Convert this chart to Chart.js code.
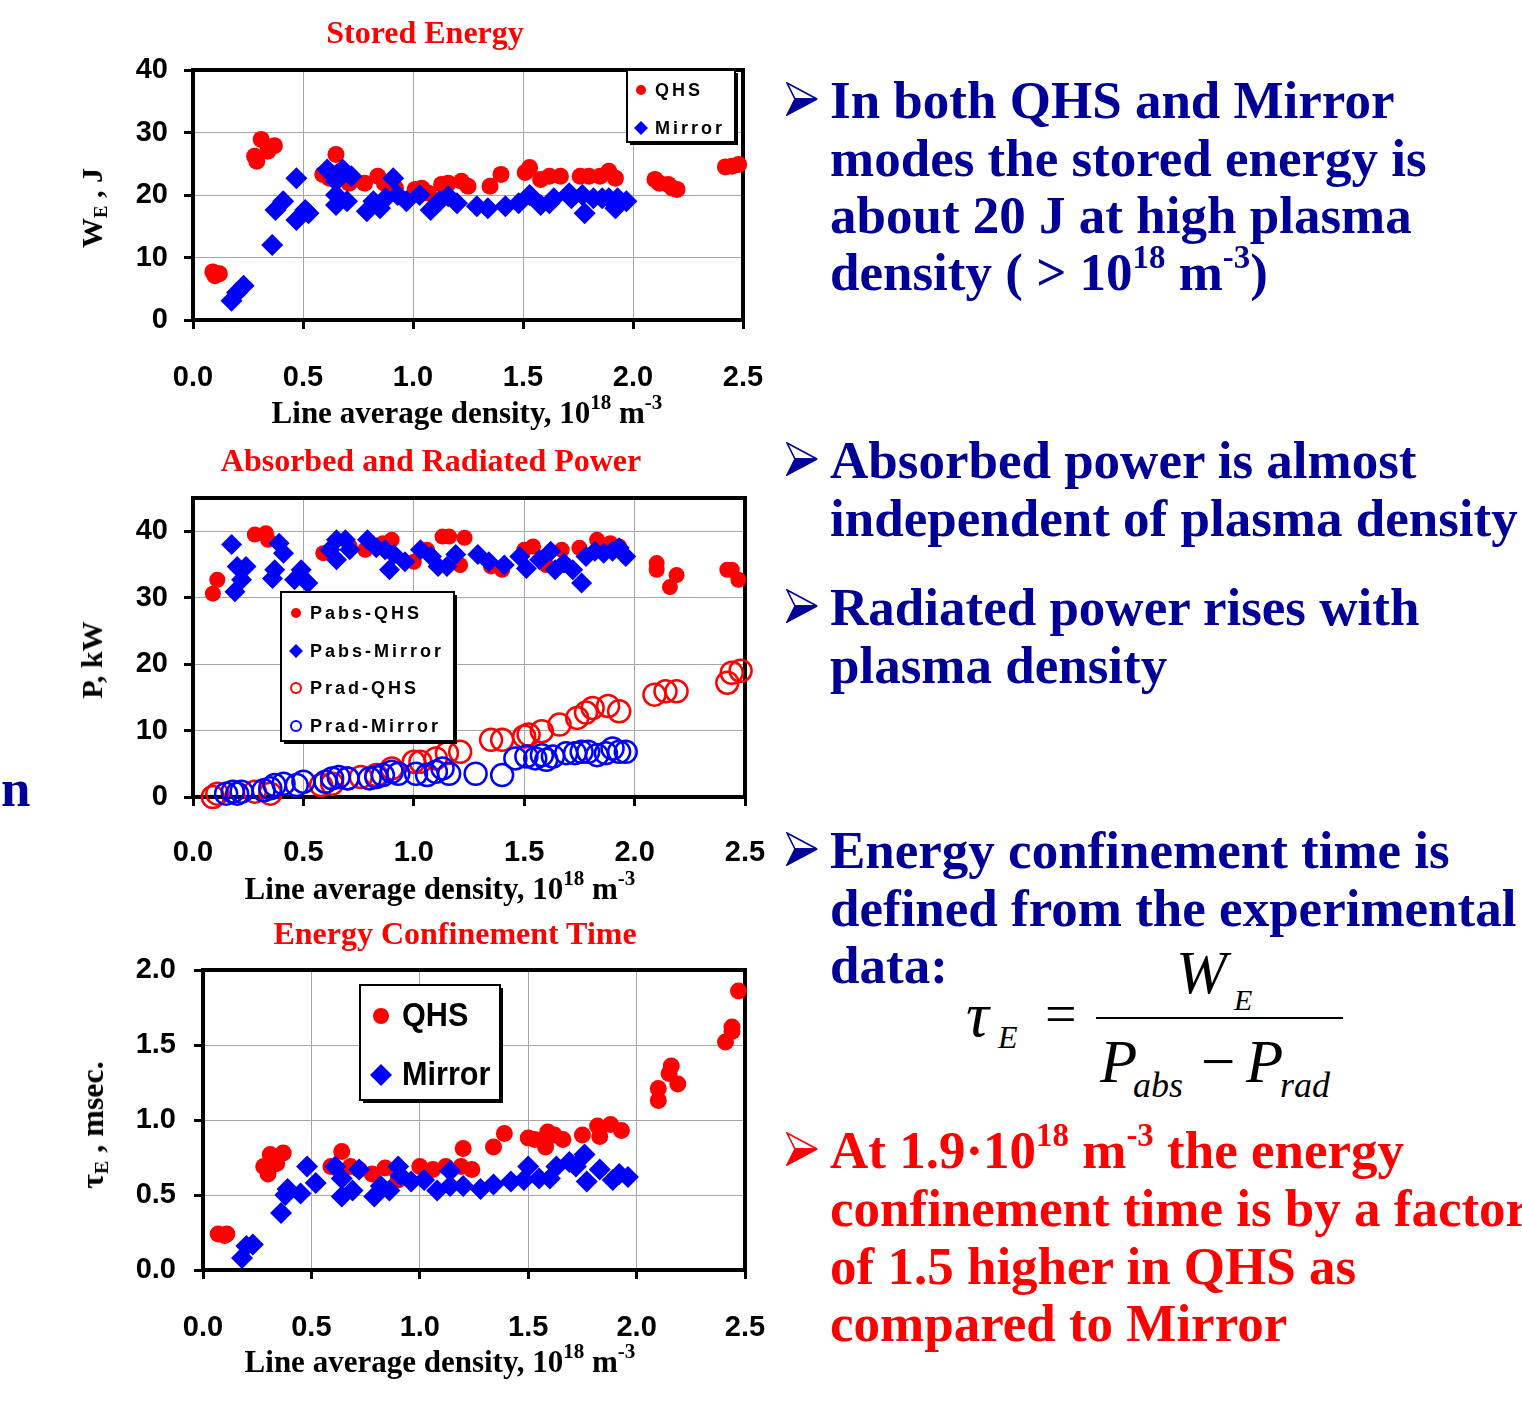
<!DOCTYPE html>
<html>
<head>
<meta charset="utf-8">
<title>Stored energy, power and confinement time</title>
<script src="https://cdn.jsdelivr.net/npm/chart.js@4.4.1/dist/chart.umd.min.js"></script>
<style>
  html, body { margin: 0; padding: 0; background: #fff; }
  body { width: 1522px; height: 1401px; position: relative; overflow: hidden; }
  canvas { position: absolute; left: 0; }
  .t { position: absolute; white-space: nowrap; font-family: "Liberation Serif", "Times New Roman", serif; font-weight: bold; line-height: 1; }
  .note { font-size: 53px; color: #000099; left: 830px; }
  .note.red { color: #ff0000; }
  .ctitle { font-size: 32px; color: #ff0000; transform: translateX(-50%); }
  .xtitle { font-size: 31px; color: #000; transform: translateX(-50%); }
  .ytitle { font-size: 30px; color: #000; transform: translate(-50%, -50%) rotate(-90deg); }
  .sup { font-size: 0.62em; position: relative; top: -0.65em; }
  .xtitle .sup { font-size: 0.68em; }
  .sub { font-size: 0.62em; position: relative; top: 0.25em; }
  .arrow { position: absolute; left: 786px; }
  .eq { position: absolute; font-family: "Liberation Serif", "Times New Roman", serif; font-style: italic; line-height: 1; white-space: nowrap; color: #000; }
</style>
</head>
<body>

<canvas id="cEnergy" width="790" height="400" style="top:0px"></canvas>
<canvas id="cPower" width="790" height="440" style="top:430px"></canvas>
<canvas id="cTau" width="790" height="460" style="top:900px"></canvas>

<!-- chart titles and axis titles -->
<div class="t ctitle" style="left:425px; top:16px">Stored Energy</div>
<div class="t xtitle" style="left:467px; top:397px">Line average density, 10<span class="sup">18</span> m<span class="sup">-3</span></div>
<div class="t ytitle" style="left:92px; top:208px">W<span class="sub">E</span> , J</div>

<div class="t ctitle" style="left:431px; top:444px">Absorbed and Radiated Power</div>
<div class="t xtitle" style="left:440px; top:873px">Line average density, 10<span class="sup">18</span> m<span class="sup">-3</span></div>
<div class="t ytitle" style="left:92px; top:660px">P, kW</div>

<div class="t ctitle" style="left:455px; top:917px">Energy Confinement Time</div>
<div class="t xtitle" style="left:440px; top:1346px">Line average density, 10<span class="sup">18</span> m<span class="sup">-3</span></div>
<div class="t ytitle" style="left:92px; top:1125px; font-size:32px">&tau;<span class="sub">E</span> , msec.</div>

<!-- bullet notes -->
<div class="t note" style="left:1px; top:762px">n</div>

<svg class="arrow" style="top:82px" width="32" height="34" viewBox="0 0 32 34"><polygon points="1,1 31,17 9,17" fill="#fff" stroke="#000099" stroke-width="1.6"/><polygon points="9,17 31,17 1,33" fill="#000099" stroke="#000099" stroke-width="1.6"/></svg>
<div class="t note" style="top:73.6px">In both QHS and Mirror</div>
<div class="t note" style="top:131.6px">modes the stored energy is</div>
<div class="t note" style="top:188.6px">about 20 J at high plasma</div>
<div class="t note" style="top:245.6px">density ( &gt; 10<span class="sup">18</span> m<span class="sup">-3</span>)</div>

<svg class="arrow" style="top:442px" width="32" height="34" viewBox="0 0 32 34"><polygon points="1,1 31,17 9,17" fill="#fff" stroke="#000099" stroke-width="1.6"/><polygon points="9,17 31,17 1,33" fill="#000099" stroke="#000099" stroke-width="1.6"/></svg>
<div class="t note" style="top:433.6px">Absorbed power is almost</div>
<div class="t note" style="top:491.6px">independent of plasma density</div>

<svg class="arrow" style="top:589px" width="32" height="34" viewBox="0 0 32 34"><polygon points="1,1 31,17 9,17" fill="#fff" stroke="#000099" stroke-width="1.6"/><polygon points="9,17 31,17 1,33" fill="#000099" stroke="#000099" stroke-width="1.6"/></svg>
<div class="t note" style="top:580.6px">Radiated power rises with</div>
<div class="t note" style="top:638.6px">plasma density</div>

<svg class="arrow" style="top:832px" width="32" height="34" viewBox="0 0 32 34"><polygon points="1,1 31,17 9,17" fill="#fff" stroke="#000099" stroke-width="1.6"/><polygon points="9,17 31,17 1,33" fill="#000099" stroke="#000099" stroke-width="1.6"/></svg>
<div class="t note" style="top:823.6px">Energy confinement time is</div>
<div class="t note" style="top:881.6px">defined from the experimental</div>
<div class="t note" style="top:938.6px">data:</div>

<!-- tau_E = W_E / (P_abs - P_rad) -->
<div class="eq" style="left:966px; top:983px; font-size:64px">&tau;</div>
<div class="eq" style="left:998px; top:1021px; font-size:32px">E</div>
<div class="eq" style="left:1045px; top:986px; font-size:56px; font-style:normal">=</div>
<div style="position:absolute; left:1096px; top:1017px; width:247px; height:2px; background:#000"></div>
<div class="eq" style="left:1176px; top:942px; font-size:61px">W</div>
<div class="eq" style="left:1234px; top:985px; font-size:30px">E</div>
<div class="eq" style="left:1100px; top:1031px; font-size:61px">P</div>
<div class="eq" style="left:1133px; top:1067px; font-size:36px">abs</div>
<div class="eq" style="left:1201px; top:1031px; font-size:61px; font-style:normal">&minus;</div>
<div class="eq" style="left:1246px; top:1031px; font-size:61px">P</div>
<div class="eq" style="left:1280px; top:1067px; font-size:36px">rad</div>

<svg class="arrow" style="top:1132px" width="32" height="34" viewBox="0 0 32 34"><polygon points="1,1 31,17 9,17" fill="#fff" stroke="#ff0000" stroke-width="1.6"/><polygon points="9,17 31,17 1,33" fill="#ff0000" stroke="#ff0000" stroke-width="1.6"/></svg>
<div class="t note red" style="top:1123.6px">At 1.9&middot;10<span class="sup">18</span> m<span class="sup">-3</span> the energy</div>
<div class="t note red" style="top:1181.6px">confinement time is by a factor</div>
<div class="t note red" style="top:1239.6px">of 1.5 higher in QHS as</div>
<div class="t note red" style="top:1296.6px">compared to Mirror</div>

<script>
// ---- stored energy W_E (J) vs line average density (1e18 m^-3) ----
const weQhsDensity = [0.09, 0.10, 0.12, 0.28, 0.29, 0.31, 0.34, 0.37, 0.59, 0.62, 0.65, 0.67, 0.71,
  0.78, 0.84, 0.87, 0.92, 1.01, 1.04, 1.07, 1.13, 1.16, 1.22, 1.25, 1.35, 1.40,
  1.51, 1.53, 1.58, 1.62, 1.67, 1.76, 1.80, 1.85, 1.89, 1.92, 2.10, 2.12, 2.16, 2.18, 2.20,
  2.42, 2.45, 2.48];
const weQhsEnergy = [7.7, 7.1, 7.4, 26.2, 25.4, 28.9, 27.0, 27.9, 23.3, 22.7, 26.5, 23.8, 21.9,
  21.9, 23.0, 21.9, 21.1, 20.9, 21.1, 20.3, 21.7, 21.9, 22.2, 21.4, 21.4, 23.3,
  23.6, 24.4, 22.5, 23.0, 23.0, 23.0, 23.0, 23.0, 23.8, 22.7, 22.5, 21.9, 21.7, 21.1, 20.9,
  24.5, 24.6, 24.9];
const weMirrorDensity = [0.175, 0.20, 0.23, 0.36, 0.375, 0.41, 0.47, 0.47, 0.51, 0.525,
  0.61, 0.65, 0.65, 0.65, 0.68, 0.72, 0.70, 0.79, 0.82, 0.85, 0.875, 0.91, 0.93, 0.97,
  1.03, 1.08, 1.12, 1.16, 1.20, 1.29, 1.34, 1.42, 1.48, 1.53, 1.58, 1.62, 1.64,
  1.71, 1.72, 1.77, 1.78, 1.82, 1.86, 1.89, 1.92, 1.93, 1.97];
const weMirrorEnergy = [3.1, 4.4, 5.5, 12.0, 17.6, 19.0, 22.7, 16.0, 17.6, 17.1,
  24.1, 22.2, 20.0, 18.4, 24.1, 23.0, 19.0, 17.4, 19.0, 17.9, 19.5, 22.7, 20.0, 19.0,
  20.0, 17.6, 19.0, 19.8, 18.7, 18.2, 17.9, 18.2, 18.7, 20.0, 18.4, 18.7, 19.5,
  20.3, 19.5, 20.0, 17.1, 19.5, 19.5, 19.5, 17.9, 19.5, 19.0];

// ---- absorbed and radiated power (kW) ----
const pabsQhsDensity = [0.09, 0.11, 0.28, 0.33, 0.34, 0.59, 0.71, 0.78, 0.86, 0.90, 1.00, 1.06,
  1.13, 1.16, 1.23, 1.21, 1.35, 1.40, 1.50, 1.54, 1.60, 1.67, 1.75, 1.83, 1.89, 1.93,
  2.10, 2.10, 2.16, 2.19, 2.42, 2.44, 2.47];
const pabsQhsPower = [30.6, 32.7, 39.5, 39.7, 38.7, 36.7, 37.7, 37.2, 38.2, 38.7, 35.4, 37.2,
  39.2, 39.2, 39.0, 34.9, 34.7, 34.2, 37.2, 37.7, 34.9, 37.2, 37.5, 38.7, 38.2, 37.7,
  35.2, 34.2, 31.6, 33.4, 34.2, 34.2, 32.7];
const pabsMirrorDensity = [0.175, 0.19, 0.20, 0.22, 0.24, 0.36, 0.37, 0.39, 0.41, 0.46, 0.49, 0.52,
  0.62, 0.65, 0.65, 0.69, 0.71, 0.79, 0.83, 0.87, 0.89, 0.91, 0.96, 1.03, 1.08, 1.11, 1.15, 1.19,
  1.29, 1.34, 1.41, 1.48, 1.51, 1.57, 1.62, 1.64, 1.68, 1.72, 1.76, 1.78, 1.82, 1.86, 1.90, 1.93, 1.96];
const pabsMirrorPower = [38.0, 30.9, 34.7, 32.7, 34.7, 32.9, 34.2, 38.2, 36.7, 32.7, 34.2, 32.2,
  37.2, 38.7, 35.7, 38.7, 37.2, 38.7, 37.5, 37.2, 34.2, 36.5, 35.4, 37.2, 36.2, 34.7, 34.7, 36.5,
  36.5, 35.4, 34.9, 36.2, 34.4, 35.7, 37.0, 34.2, 35.2, 34.2, 32.2, 36.2, 37.0, 36.7, 37.0, 37.5, 36.2];
const pradQhsDensity = [0.09, 0.11, 0.28, 0.35, 0.58, 0.63, 0.70, 0.76, 0.83, 0.90, 1.00, 1.03,
  1.10, 1.15, 1.21, 1.35, 1.40, 1.50, 1.52, 1.58, 1.66, 1.74, 1.78, 1.81, 1.88, 1.93,
  2.09, 2.14, 2.19, 2.42, 2.44, 2.48];
const pradQhsPower = [0.0, 0.5, 0.8, 0.5, 1.8, 2.0, 2.8, 3.0, 3.3, 4.3, 5.3, 5.3,
  5.8, 6.6, 6.8, 8.6, 8.6, 9.1, 9.4, 9.9, 10.9, 11.9, 12.7, 13.4, 13.7, 12.9,
  15.4, 15.9, 15.9, 17.2, 18.7, 19.0];
const pradMirrorDensity = [0.15, 0.18, 0.20, 0.22, 0.32, 0.35, 0.37, 0.41, 0.47, 0.50, 0.60, 0.63,
  0.66, 0.70, 0.80, 0.83, 0.86, 0.90, 0.93, 1.01, 1.06, 1.10, 1.13, 1.16, 1.28, 1.40,
  1.46, 1.51, 1.55, 1.58, 1.60, 1.63, 1.69, 1.73, 1.76, 1.79, 1.83, 1.87, 1.90, 1.93, 1.96];
const pradMirrorPower = [0.5, 0.8, 0.5, 0.8, 1.0, 1.3, 1.8, 2.0, 1.8, 2.3, 2.3, 2.8,
  3.0, 2.8, 2.8, 3.0, 3.3, 3.8, 3.5, 3.5, 3.3, 3.8, 4.3, 3.5, 3.5, 3.3,
  5.8, 6.1, 5.8, 6.3, 5.6, 6.1, 6.6, 6.6, 6.8, 6.8, 6.3, 6.6, 7.3, 6.8, 6.8];

// ---- energy confinement time (msec) ----
const tauQhsDensity = [0.07, 0.10, 0.11, 0.28, 0.30, 0.31, 0.34, 0.37, 0.59, 0.64, 0.68, 0.72,
  0.78, 0.84, 0.90, 1.00, 1.06, 1.12, 1.19, 1.24, 1.20, 1.34, 1.39, 1.50, 1.53, 1.58, 1.59,
  1.62, 1.66, 1.75, 1.82, 1.83, 1.88, 1.93, 2.10, 2.10, 2.15, 2.16, 2.19, 2.41, 2.44, 2.44, 2.47];
const tauQhsTime = [0.24, 0.23, 0.24, 0.69, 0.64, 0.77, 0.71, 0.78, 0.69, 0.79, 0.69, 0.67,
  0.64, 0.68, 0.60, 0.69, 0.67, 0.69, 0.69, 0.67, 0.81, 0.82, 0.91, 0.88, 0.87, 0.82, 0.92,
  0.90, 0.87, 0.90, 0.96, 0.89, 0.97, 0.93, 1.13, 1.21, 1.31, 1.36, 1.24, 1.52, 1.62, 1.59, 1.86];
const tauMirrorDensity = [0.18, 0.20, 0.23, 0.36, 0.38, 0.39, 0.45, 0.48, 0.52, 0.61, 0.64, 0.64,
  0.69, 0.72, 0.79, 0.82, 0.86, 0.90, 0.91, 0.96, 1.02, 1.08, 1.14, 1.14, 1.20, 1.28, 1.34,
  1.42, 1.48, 1.50, 1.55, 1.60, 1.63, 1.69, 1.72, 1.76, 1.77, 1.83, 1.89, 1.92, 1.96];
const tauMirrorTime = [0.08, 0.16, 0.17, 0.38, 0.50, 0.54, 0.51, 0.69, 0.58, 0.69, 0.49, 0.61,
  0.53, 0.67, 0.49, 0.56, 0.53, 0.69, 0.63, 0.59, 0.60, 0.53, 0.66, 0.56, 0.56, 0.54, 0.57,
  0.59, 0.60, 0.69, 0.61, 0.61, 0.69, 0.72, 0.69, 0.77, 0.59, 0.67, 0.60, 0.64, 0.62];

const densityTicks = [0, 0.5, 1.0, 1.5, 2.0, 2.5];

const RED = "#ff0000";
const BLUE = "#0000ff";
const tickFont = { family: "'Liberation Sans', Arial, sans-serif", size: 29, weight: "bold" };

function pts(xs, ys) {
  return xs.map((x, i) => ({ x, y: ys[i] }));
}

function series(label, xs, ys, color, shape, radius, hollow, order) {
  return {
    label,
    data: pts(xs, ys),
    pointStyle: shape,
    pointRadius: radius,
    pointHoverRadius: radius,
    pointBackgroundColor: hollow ? "rgba(0,0,0,0)" : color,
    pointBorderColor: color,
    pointBorderWidth: hollow ? 2.5 : 0,
    showLine: false,
    clip: false,
    order,
    hollow,
  };
}

function drawMarker(ctx, shape, x, y, r, color, hollow) {
  ctx.beginPath();
  if (shape === "rectRot") {
    ctx.moveTo(x, y - r);
    ctx.lineTo(x + r, y);
    ctx.lineTo(x, y + r);
    ctx.lineTo(x - r, y);
    ctx.closePath();
  } else {
    ctx.arc(x, y, r, 0, Math.PI * 2);
  }
  if (hollow) {
    ctx.lineWidth = 2;
    ctx.strokeStyle = color;
    ctx.stroke();
  } else {
    ctx.fillStyle = color;
    ctx.fill();
  }
}

// thick black frame round the plot area, under the markers
const frame = {
  id: "frame",
  beforeDatasetsDraw(chart) {
    const { ctx, chartArea: a } = chart;
    ctx.save();
    ctx.lineWidth = 4;
    ctx.strokeStyle = "#000";
    ctx.strokeRect(a.left, a.top, a.right - a.left, a.bottom - a.top);
    ctx.restore();
  },
};

// legend box with shadow, drawn inside the plot area
const boxLegend = {
  id: "boxLegend",
  afterDatasetsDraw(chart, args, o) {
    if (!o.rows) return;
    const { ctx, chartArea: a } = chart;
    const x = a.left + o.dx, y = a.top + o.dy;
    ctx.save();
    ctx.fillStyle = "#000";
    ctx.fillRect(x + 3, y + 3, o.w, o.h);
    ctx.fillStyle = "#fff";
    ctx.fillRect(x, y, o.w, o.h);
    ctx.lineWidth = 2;
    ctx.strokeStyle = "#000";
    ctx.strokeRect(x, y, o.w, o.h);
    ctx.font = o.font;
    ctx.letterSpacing = o.spacing || "0px";
    ctx.textBaseline = "middle";
    o.items.forEach((idx, i) => {
      const ds = chart.data.datasets[idx];
      const cy = y + o.rows[i];
      const r = ds.pointStyle === "rectRot" ? o.diamondR : o.circleR;
      drawMarker(ctx, ds.pointStyle, x + o.markX, cy, r, ds.pointBorderColor, ds.hollow);
      ctx.fillStyle = "#000";
      ctx.save();
      ctx.translate(x + o.textX, cy + 1);
      ctx.scale(o.squeeze || 1, 1);
      ctx.fillText(ds.label, 0, 0);
      ctx.restore();
    });
    ctx.restore();
  },
};

function makeChart(id, datasets, cfg) {
  const canvas = document.getElementById(id);
  return new Chart(canvas, {
    type: "scatter",
    data: { datasets },
    plugins: [frame, boxLegend],
    options: {
      responsive: false,
      animation: false,
      events: [],
      layout: { padding: { left: 0, top: cfg.top, right: canvas.width - cfg.right, bottom: 0 } },
      plugins: {
        legend: { display: false },
        tooltip: { enabled: false },
        boxLegend: cfg.legend,
      },
      scales: {
        x: {
          type: "linear",
          min: 0,
          max: 2.5,
          afterFit: (s) => {
            s.height = canvas.height - cfg.bottom;
            // label padding would otherwise widen the side margins
            s.paddingLeft = 0;
            s.paddingRight = 0;
          },
          afterBuildTicks: (s) => { s.ticks = densityTicks.map((v) => ({ value: v })); },
          ticks: { font: tickFont, color: "#000", padding: cfg.xPad, maxRotation: 0, autoSkip: false,
            callback: (v) => Number(v).toFixed(1) },
          grid: { color: "#a6a6a6", lineWidth: 1, tickLength: 9, tickWidth: 3, tickColor: "#000" },
          border: { display: false },
        },
        y: {
          min: 0,
          max: cfg.yMax,
          afterFit: (s) => {
            s.width = cfg.left;
            s.paddingTop = 0;
            s.paddingBottom = 0;
          },
          afterBuildTicks: (s) => { s.ticks = cfg.yTicks.map((v) => ({ value: v })); },
          ticks: { font: tickFont, color: "#000", padding: cfg.yPad, callback: cfg.yFmt },
          grid: { color: "#a6a6a6", lineWidth: 1, tickLength: 9, tickWidth: 3, tickColor: "#000" },
          border: { display: false },
        },
      },
    },
  });
}

// Stored Energy
makeChart("cEnergy", [
  series("QHS", weQhsDensity, weQhsEnergy, RED, "circle", 8.5, false, 2),
  series("Mirror", weMirrorDensity, weMirrorEnergy, BLUE, "rectRot", 11, false, 1),
], {
  top: 70, right: 743, bottom: 320, left: 193, xPad: 32, yPad: 16,
  yMax: 40, yTicks: [0, 10, 20, 30, 40], yFmt: (v) => String(v),
  legend: { dx: 434, dy: 0, w: 108, h: 72, markX: 14, textX: 28, rows: [20, 58], items: [0, 1],
    font: "bold 18px 'Liberation Sans', Arial", spacing: "3px", circleR: 5, diamondR: 7 },
});

// Absorbed and Radiated Power
makeChart("cPower", [
  series("Pabs-QHS", pabsQhsDensity, pabsQhsPower, RED, "circle", 8, false, 4),
  series("Pabs-Mirror", pabsMirrorDensity, pabsMirrorPower, BLUE, "rectRot", 10.5, false, 3),
  series("Prad-QHS", pradQhsDensity, pradQhsPower, RED, "circle", 11, true, 2),
  series("Prad-Mirror", pradMirrorDensity, pradMirrorPower, BLUE, "circle", 11, true, 1),
], {
  top: 68, right: 745, bottom: 367, left: 193, xPad: 30, yPad: 16,
  yMax: 45, yTicks: [0, 10, 20, 30, 40], yFmt: (v) => String(v),
  legend: { dx: 88, dy: 94, w: 173, h: 149, markX: 15, textX: 29, rows: [21, 59, 96, 134], items: [0, 1, 2, 3],
    font: "bold 18px 'Liberation Sans', Arial", spacing: "3px", circleR: 5, diamondR: 7 },
});

// Energy Confinement Time
makeChart("cTau", [
  series("QHS", tauQhsDensity, tauQhsTime, RED, "circle", 8.5, false, 2),
  series("Mirror", tauMirrorDensity, tauMirrorTime, BLUE, "rectRot", 11, false, 1),
], {
  top: 70, right: 745, bottom: 370, left: 203, xPad: 32, yPad: 18,
  yMax: 2.0, yTicks: [0, 0.5, 1.0, 1.5, 2.0], yFmt: (v) => Number(v).toFixed(1),
  legend: { dx: 157, dy: 15, w: 140, h: 115, markX: 21, textX: 42, rows: [31, 90], items: [0, 1],
    font: "bold 34px 'Liberation Sans', Arial", spacing: "0px", squeeze: 0.9, circleR: 8, diamondR: 11 },
});
</script>
</body>
</html>
